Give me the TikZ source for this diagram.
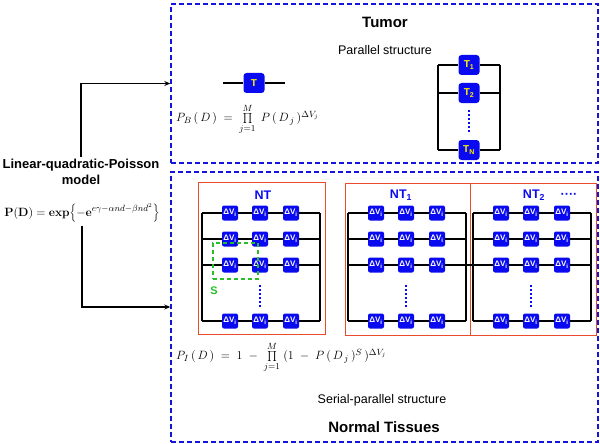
\documentclass[tikz,border=0pt]{standalone}
\usepackage[no-math]{fontspec}
\setmainfont{Liberation Sans}
\usetikzlibrary{arrows.meta}

\definecolor{regionblue}{RGB}{20,20,220}
\definecolor{cellblue}{RGB}{10,10,240}
\definecolor{framered}{RGB}{235,75,45}
\definecolor{sgreen}{RGB}{40,190,40}

\begin{document}
\begin{tikzpicture}[x=1pt,y=-1pt,
    region/.style={draw=regionblue, line width=1.4pt, dash pattern=on 5pt off 3pt,
                   minimum width=427, minimum height=#1, inner sep=0pt},
    tbox/.style={fill=cellblue, rounded corners=3pt, minimum width=21, minimum height=20,
                 inner sep=0pt, text=yellow, font=\bfseries\fontsize{10}{10}\selectfont},
    vbox/.style={fill=cellblue, rounded corners=2pt, minimum width=16, minimum height=15,
                 inner sep=0pt, text=white, font=\bfseries\fontsize{8}{8}\selectfont},
    ntframe/.style={draw=framered, line width=1pt, inner sep=0pt},
    ntlabel/.style={text=cellblue, font=\bfseries\fontsize{12.5}{13}\selectfont},
    wire/.style={line width=1.5pt},
    vdots/.style={draw=cellblue, line width=2pt, dash pattern=on 1.5pt off 2.5pt},
    formula/.style={anchor=west, inner sep=0pt, font=\fontsize{12.5}{13}\selectfont},
    caption/.style={font=\fontsize{12.5}{14}\selectfont},
    heading/.style={font=\bfseries\fontsize{15}{16}\selectfont}]
    \useasboundingbox (0,0) rectangle (600,444);

    % the two regions
    \node[region=159] (tumor)  at (384.5,83.5) {};
    \node[region=270] (normal) at (384.5,307)  {};
    \node[heading] (tumortitle)  at (385,22)  {Tumor};
    \node[caption] (partitle)    at (385,50)  {Parallel structure};
    \node[caption] (sptitle)     at (382,400) {Serial-parallel structure};
    \node[heading] (normaltitle) at (384,427) {Normal Tissues};

    % model on the left
    \node[align=center, inner sep=2pt, font=\bfseries\fontsize{13}{16}\selectfont]
        (lqp) at (81,172) {Linear-quadratic-Poisson\\model};
    \node[font=\fontsize{13}{14}\selectfont] (lqpf) at (82,213)
        {$\mathbf{P(D)=exp}\Bigl\{-\mathbf{e}^{e\gamma-\alpha nd-\beta nd^{2}}\Bigr\}$};
    \draw[wire, -{Stealth[length=6pt,width=5pt]}] (lqp.north) |- (tumor.west);
    \draw[wire, -{Stealth[length=6pt,width=5pt]}] (lqpf.south) |- (normal.west);

    % serial tumor element
    \node[tbox] (t) at (254,83) {T};
    \coordinate (ts) at (223,83);
    \coordinate (te) at (285,83);
    \draw[wire] (ts) -- (t) -- (te);
    \node[formula] (pb) at (176,119)
        {$P_B\,(\,D\,)\;=\;\prod\limits_{j=1}^{M}\;P\,(\,D_{\,j}\,)^{\Delta V_j}$};

    % parallel tumor elements
    \node[tbox] (t1) at (469,65)  {T\textsubscript{1}};
    \node[tbox] (t2) at (469,93)  {T\textsubscript{2}};
    \node[tbox] (tN) at (469,150) {T\textsubscript{N}};
    \coordinate (pl1) at (438,65);  \coordinate (pr1) at (500,65);
    \coordinate (pl2) at (438,93);  \coordinate (pr2) at (500,93);
    \coordinate (plN) at (438,150); \coordinate (prN) at (500,150);
    \draw[wire] (pl1) -- (t1) -- (pr1);
    \draw[wire] (pl2) -- (t2) -- (pr2);
    \draw[wire] (plN) -- (tN) -- (prN);
    \draw[wire] (pl1) -- (plN);
    \draw[wire] (pr1) -- (prN);
    \draw[vdots] (469,110) -- (469,133);

    % normal tissue frames
    \node[ntframe, minimum width=127, minimum height=152] (nt0) at (261.5,258) {};
    \node[ntframe, minimum width=125, minimum height=152] (nt1) at (407.5,259) {};
    \node[ntframe, minimum width=126, minimum height=152] (nt2) at (533,259)   {};
    \node[ntlabel] (ntlab0) at (263,195) {NT};
    \node[ntlabel] (ntlab1) at (401,195) {NT\textsubscript{1}};
    \node[ntlabel] (ntlab2) at (534,195) {NT\textsubscript{2}};
    \node[ntlabel] (ntmore) at (569,196) {····};

    % serial-parallel grids of volume elements
    \foreach \g/\L in {0/202, 1/348, 2/473} {
      \foreach \r/\y in {1/213, 2/239, 3/265, 4/321} {
        \foreach \c/\dx in {1/28, 2/58, 3/89}
          \node[vbox] (n\g-\r-\c) at (\L+\dx,\y) {ΔV\textsubscript{i}};
        \coordinate (l\g-\r) at (\L,\y);
        \coordinate (r\g-\r) at (\L+118,\y);
        \draw[wire] (l\g-\r) -- (n\g-\r-1) -- (n\g-\r-2) -- (n\g-\r-3) -- (r\g-\r);
      }
      \draw[wire] (l\g-1) -- (l\g-4);
      \draw[wire] (r\g-1) -- (r\g-4);
      \draw[vdots] (\L+58,285) -- (\L+58,307);
    }
    \draw[wire] (r1-3) -- (l2-3);

    % subunit S
    \node[draw=sgreen, line width=1.4pt, dash pattern=on 4pt off 3pt, inner sep=0pt,
          minimum width=45, minimum height=36] (sgroup) at (235.5,261) {};
    \node[text=sgreen, font=\bfseries\fontsize{11}{12}\selectfont] (slab) at (214,291) {S};

    \node[formula] (pi) at (176,357)
        {$P_I\,(\,D\,)\;=\;1\;-\;\prod\limits_{j=1}^{M}\;(1\;-\;P\,(\,D_{\,j}\,)^{S}\,)^{\Delta V_j}$};
\end{tikzpicture}
\end{document}
